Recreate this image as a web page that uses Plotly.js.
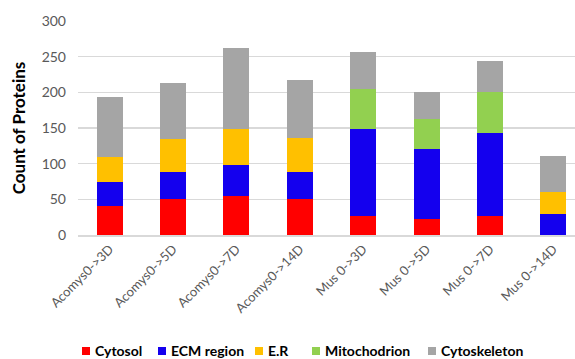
<!DOCTYPE html>
<html>
<head>
<meta charset="utf-8">
<script src="https://cdn.plot.ly/plotly-3.0.1.min.js"></script>
<style>
  html, body { margin: 0; padding: 0; background: #fff; }
  #chart { width: 575px; height: 359px; }
</style>
</head>
<body>
<div id="chart"></div>
<script>
// Comparisons (time points) on the x axis
const comparisons = ['Acomys0->3D', 'Acomys0->5D', 'Acomys0->7D', 'Acomys0->14D',
                     'Mus 0->3D', 'Mus 0->5D', 'Mus 0->7D', 'Mus 0->14D'];

// Protein counts per cellular compartment
const cytosol       = [40, 50, 55, 50, 27, 23, 27, 0];
const ecmRegion     = [35, 38, 43, 38, 121, 97, 116, 30];
const er            = [35, 47, 50, 48, 0, 0, 0, 30];
const mitochondrion = [0, 0, 0, 0, 56, 43, 57, 0];
const cytoskeleton  = [83, 78, 114, 81, 52, 38, 44, 51];

const seriesNames  = ['Cytosol', 'ECM region', 'E.R', 'Mitochodrion', 'Cytoskeleton'];
const seriesValues = [cytosol, ecmRegion, er, mitochondrion, cytoskeleton];
const seriesColors = ['#FF0000', '#1400EE', '#FFC000', '#92D050', '#A5A5A5'];

const yTicks = [0, 50, 100, 150, 200, 250, 300];

const FONT = 'Lato, "Open Sans", sans-serif';

// Chart geometry (pixels)
const W = 575, H = 359;
const M = { l: 78, r: 0, t: 21, b: 124 };
const plotW = W - M.l - M.r;
const plotH = H - M.t - M.b;

const traces = seriesNames.map((name, i) => ({
  type: 'bar',
  name: name,
  x: comparisons,
  y: seriesValues[i],
  marker: { color: seriesColors[i], line: { width: 0 } },
  hoverinfo: 'x+y+name',
  showlegend: false
}));

// Legend row under the chart: small square swatch + bold label at fixed slots
const legendFontSize = 14;
const legendSlotsPx = [82, 158, 255, 312, 428];
const swatch = 8, swatchGap = 3, legendCenterY = 351;

const toPaperX = px => (px - M.l) / plotW;
const toPaperY = py => (H - M.b - py) / plotH;

const shapes = [];
const annotations = [];
seriesNames.forEach((name, i) => {
  const left = legendSlotsPx[i];
  shapes.push({
    type: 'rect', xref: 'paper', yref: 'paper',
    x0: toPaperX(left), x1: toPaperX(left + swatch),
    y0: toPaperY(legendCenterY + swatch / 2), y1: toPaperY(legendCenterY - swatch / 2),
    fillcolor: seriesColors[i], line: { width: 0 }
  });
  annotations.push({
    xref: 'paper', yref: 'paper',
    x: toPaperX(left + swatch + swatchGap), y: toPaperY(legendCenterY),
    xanchor: 'left', yanchor: 'middle',
    text: name, showarrow: false,
    font: { size: legendFontSize, color: '#000000', family: FONT, weight: 'bold' }
  });
});

const layout = {
  width: W,
  height: H,
  margin: M,
  paper_bgcolor: '#ffffff',
  plot_bgcolor: '#ffffff',
  barmode: 'stack',
  bargap: 0.59,
  font: { family: FONT, color: '#595959' },
  showlegend: false,
  xaxis: {
    type: 'category',
    range: [-0.5, 7.34],
    tickangle: -45,
    tickfont: { size: 13, color: '#595959' },
    showgrid: false,
    showline: true,
    linecolor: '#D9D9D9',
    linewidth: 1.5,
    ticks: '',
    fixedrange: true
  },
  yaxis: {
    range: [0, 300],
    tickvals: yTicks,
    ticktext: yTicks.map(String),
    tickfont: { size: 14, color: '#595959' },
    showgrid: true,
    gridcolor: '#D9D9D9',
    gridwidth: 1.5,
    zeroline: false,
    showline: false,
    ticks: '',
    ticklabelstandoff: 11,
    title: {
      text: 'Count of Proteins',
      font: { size: 17, color: '#000000', family: FONT, weight: 'bold' },
      standoff: 11
    },
    fixedrange: true
  },
  shapes: shapes,
  annotations: annotations
};

Plotly.newPlot('chart', traces, layout, { displayModeBar: false, staticPlot: true });
</script>
</body>
</html>
